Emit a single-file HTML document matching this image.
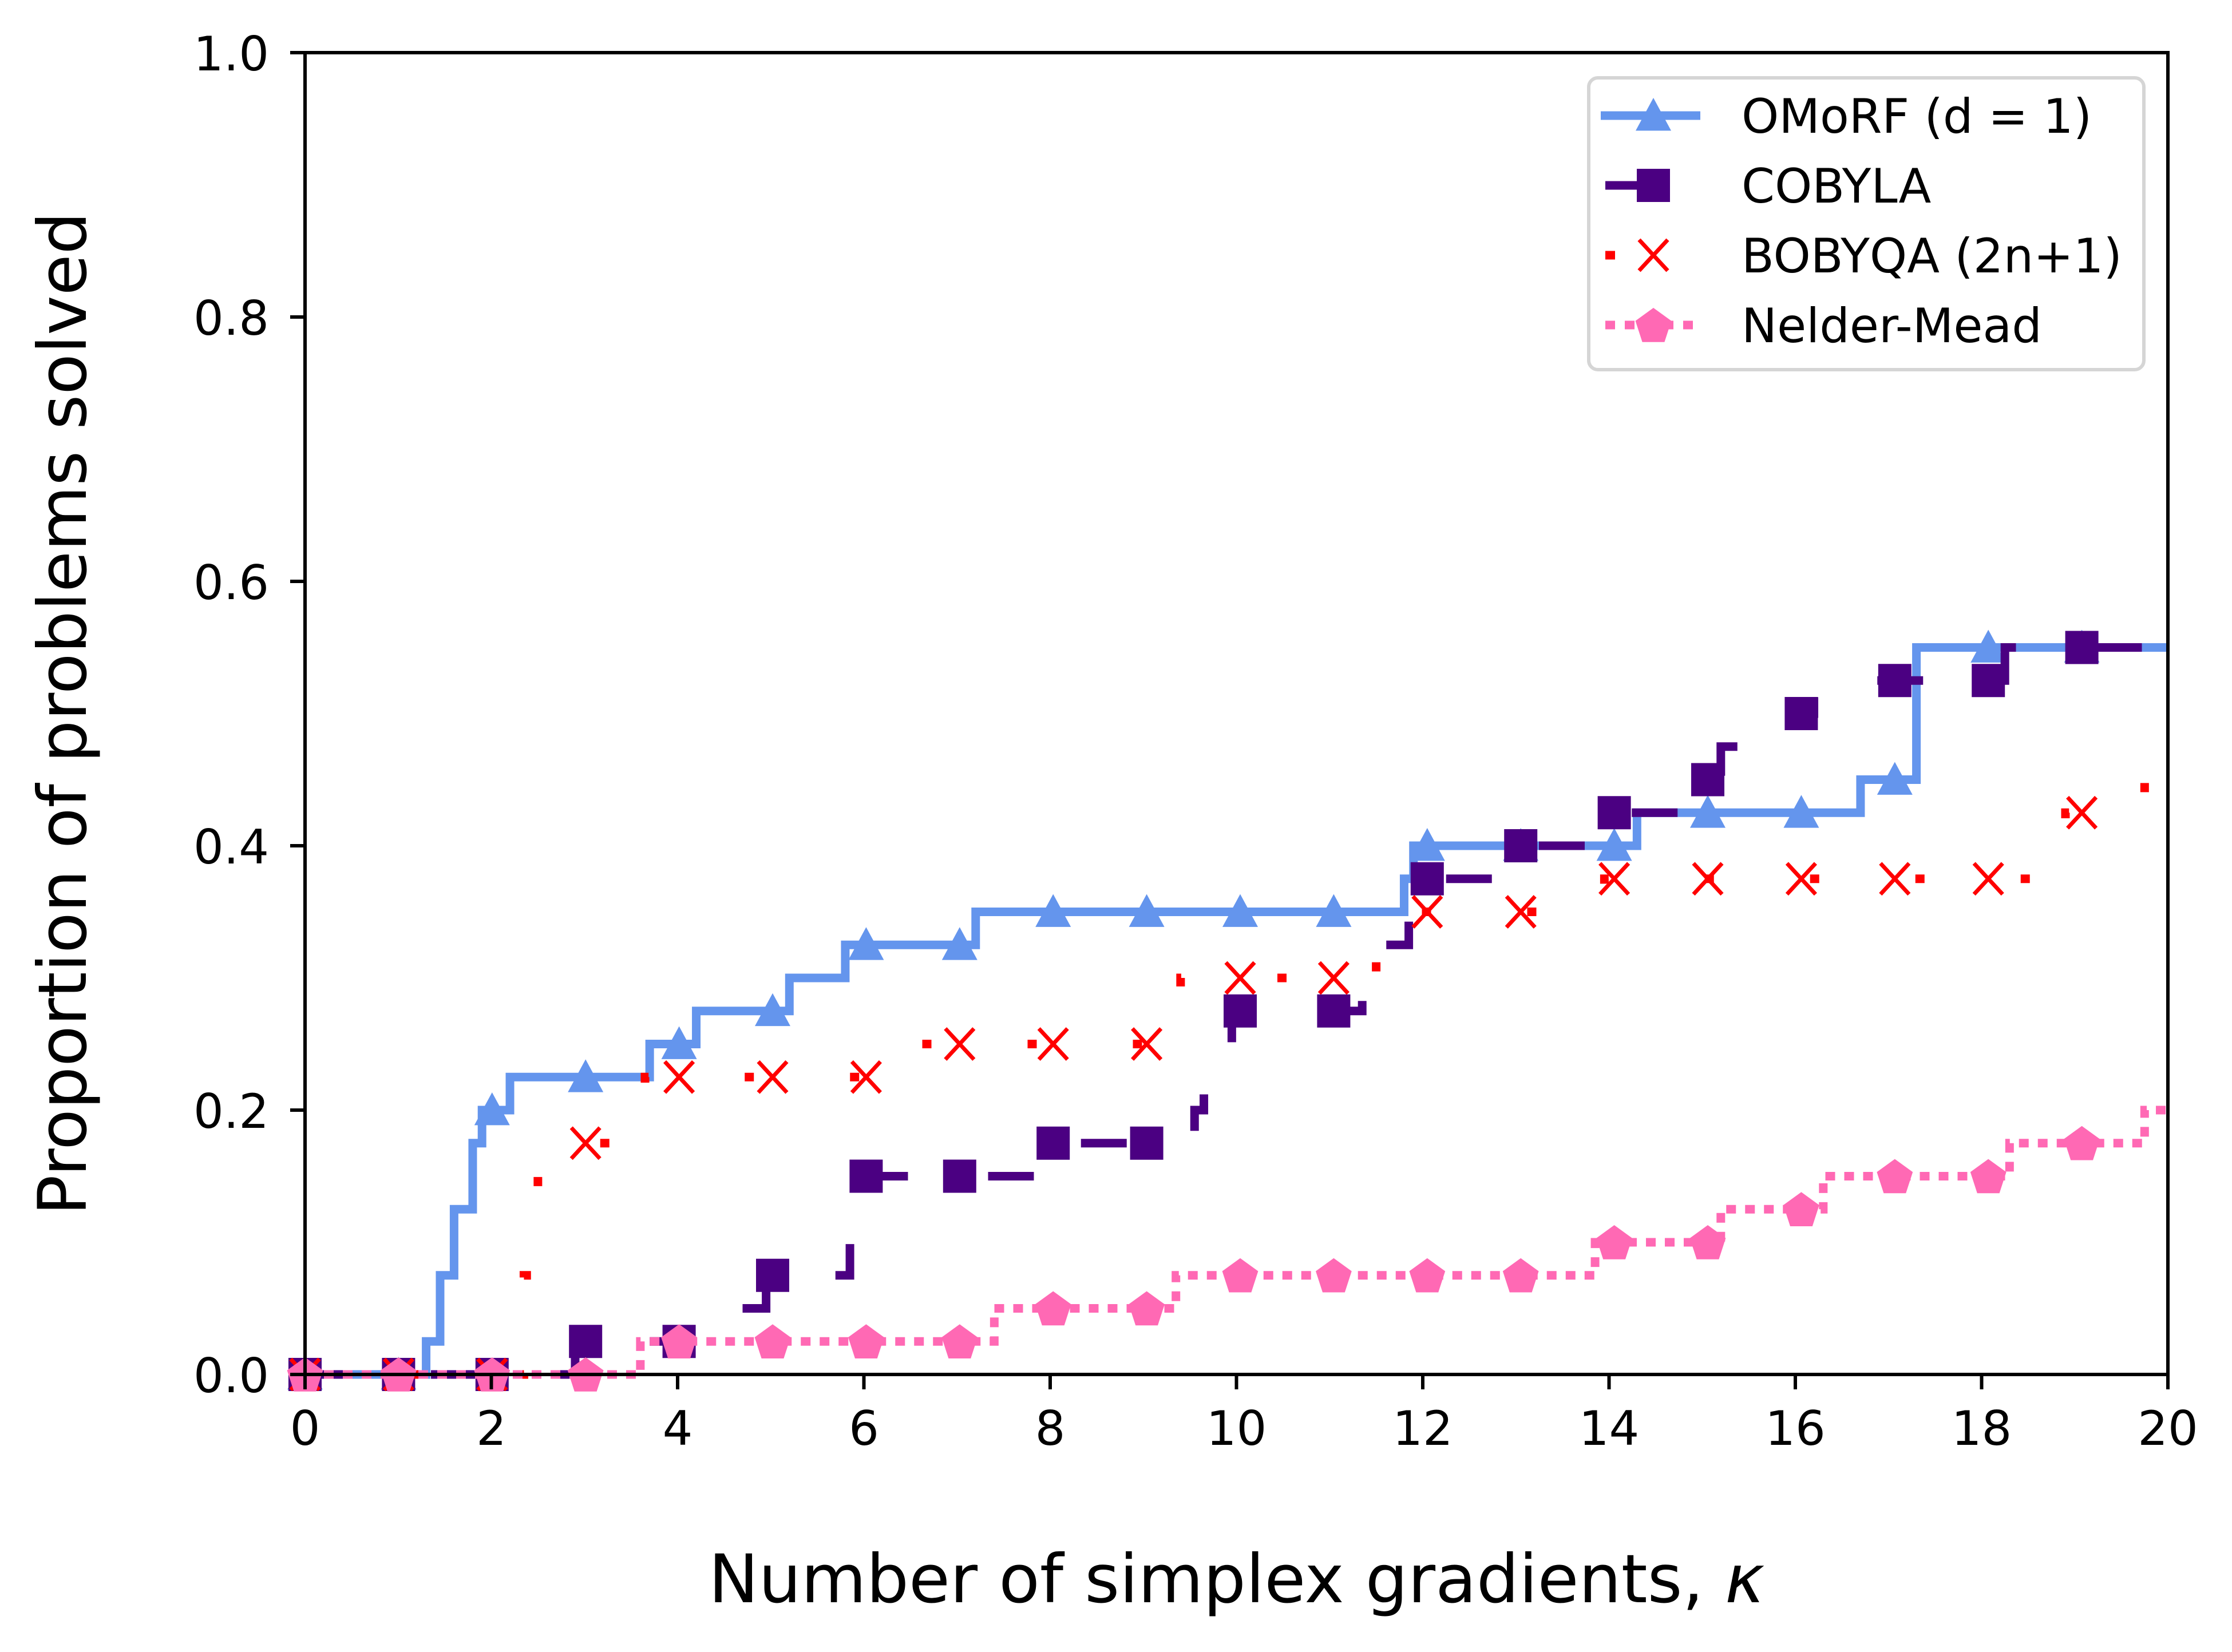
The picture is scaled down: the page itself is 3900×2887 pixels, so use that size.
<!DOCTYPE html>
<html><head><meta charset="utf-8"><style>
html,body{margin:0;padding:0;background:#fff;}
svg{display:block;font-family:"DejaVu Sans","Liberation Sans",sans-serif;}
</style></head><body>
<svg id="chart" width="3900" height="2887" viewBox="0 0 3900 2887" xmlns="http://www.w3.org/2000/svg">
<rect width="3900" height="2887" fill="#fff"/>
<g id="series"></g>
<g id="axes"></g>
<g id="legend"></g>
</svg>
<script>
const xTicks = [0,2,4,6,8,10,12,14,16,18,20];
const yTicks = [0.0,0.2,0.4,0.6,0.8,1.0];
const omorfX = [0,1.3,1.45,1.6,1.8,1.9,2.2,3.7,4.2,5.2,5.8,7.2,11.8,11.9,14.3,16.7,17.3];
const omorfY = [0,0.025,0.075,0.125,0.175,0.2,0.225,0.25,0.275,0.3,0.325,0.35,0.375,0.4,0.425,0.45,0.55];
const cobylaX = [0,2.9,4.55,4.95,5.85,5.95,7.9,9.55,9.65,9.95,11.35,11.5,11.85,12.9,13.9,14.95,15.2,15.95,16.2,18.25,19.85];
const cobylaY = [0,0.025,0.05,0.075,0.125,0.15,0.175,0.2,0.225,0.275,0.3,0.325,0.375,0.4,0.425,0.45,0.475,0.5,0.525,0.55,0.575];
const bobyqaX = [0,2.35,2.5,2.9,3.65,6.6,9.4,11.5,11.9,13.95,18.9,19.75];
const bobyqaY = [0,0.075,0.15,0.175,0.225,0.25,0.3,0.325,0.35,0.375,0.425,0.45];
const nmX = [0,3.6,7.4,9.35,13.85,15.2,16.3,18.3,19.75];
const nmY = [0,0.025,0.05,0.075,0.1,0.125,0.15,0.175,0.2];
const markerK = [0,1,2,3,4,5,6,7,8,9,10,11,12,13,14,15,16,17,18,19];

const NS = "http://www.w3.org/2000/svg";
const L = 533, R = 3788, T = 92, B = 2402;
const XMAX = 20;
function sx(v){ return L + (R-L)*v/XMAX; }
function sy(v){ return B - (B-T)*v; }
function mk(tag, attrs, parent){ const e=document.createElementNS(NS,tag); for(const k in attrs) e.setAttribute(k,attrs[k]); parent.appendChild(e); return e; }
function stepAt(xs, ys, x){ let v=ys[0]; for(let i=0;i<xs.length;i++){ if(xs[i]<=x) v=ys[i]; } return v; }
function stepPath(xs, ys){ let d="M"+sx(xs[0])+","+sy(ys[0]); for(let i=1;i<xs.length;i++){ d+=" H"+sx(xs[i])+" V"+sy(ys[i]); } d+=" H"+sx(XMAX); return d; }

function marker(type, cx, cy, color, parent){
  const s = 31;
  let el;
  if(type==="tri"){
    el = mk("polygon",{points:`${cx},${cy-s} ${cx-s},${cy+s*0.85} ${cx+s},${cy+s*0.85}`,fill:color},parent);
  } else if(type==="sq"){
    el = mk("rect",{x:cx-29,y:cy-29,width:58,height:58,fill:color},parent);
  } else if(type==="x"){
    el = mk("path",{d:`M${cx-25},${cy-27} L${cx+25},${cy+27} M${cx+25},${cy-27} L${cx-25},${cy+27}`,stroke:color,"stroke-width":7,fill:"none"},parent);
  } else {
    let pts=[]; for(let i=0;i<5;i++){ const a=-Math.PI/2+i*2*Math.PI/5; pts.push((cx+33*Math.cos(a))+","+(cy+33*Math.sin(a)+3)); }
    el = mk("polygon",{points:pts.join(" "),fill:color},parent);
  }
  return el;
}

const series = [
  {name:"omorf", xs:omorfX, ys:omorfY, color:"#6495ED", dash:"", ldash:"", m:"tri", label:"OMoRF (d = 1)"},
  {name:"cobyla", xs:cobylaX, ys:cobylaY, color:"#4B0082", dash:"80 140", ldash:"200 0", m:"sq", label:"COBYLA"},
  {name:"bobyqa", xs:bobyqaX, ys:bobyqaY, color:"#FF0000", dash:"16 168", ldash:"17 200", m:"x", label:"BOBYQA (2n+1)"},
  {name:"nelder-mead", xs:nmX, ys:nmY, color:"#FF69B4", dash:"17 16", ldash:"17 17", m:"pent", label:"Nelder-Mead"}
];
const sg = document.getElementById("series");
series.forEach(s=>{
  const g = mk("g",{},sg);
  
  
  const p = mk("path",{d:stepPath(s.xs,s.ys),fill:"none",stroke:s.color,"stroke-width":15,"stroke-dasharray":s.dash},g);
  
  
  markerK.forEach(k=>{
    const xv = k*1.004;
    const m = marker(s.m, sx(xv), sy(stepAt(s.xs,s.ys,xv)), s.color, g);
    
    
  });
});

const ag = document.getElementById("axes");
const frame = mk("rect",{x:L,y:T,width:R-L,height:B-T,fill:"none",stroke:"#000","stroke-width":6},ag);


xTicks.forEach(t=>{
  const tk = mk("line",{x1:sx(t),x2:sx(t),y1:B,y2:B+26,stroke:"#000","stroke-width":6},ag);
  
  
  const tx = mk("text",{x:sx(t),y:2525,"text-anchor":"middle","font-size":83},ag);
  tx.textContent = String(t);
  
  
});
yTicks.forEach(t=>{
  const tk = mk("line",{x1:L-26,x2:L,y1:sy(t),y2:sy(t),stroke:"#000","stroke-width":6},ag);
  
  
  const tx = mk("text",{x:470,y:sy(t)+31,"text-anchor":"end","font-size":83},ag);
  tx.textContent = t.toFixed(1);
  
  
});
const xl = mk("text",{x:(L+R)/2,y:2800,"text-anchor":"middle","font-size":117},ag);
xl.innerHTML = 'Number of simplex gradients, <tspan font-style="italic">\u03BA</tspan>';


const yl = mk("text",{x:0,y:0,"text-anchor":"middle","font-size":117,transform:`translate(150,${(T+B)/2}) rotate(-90)`},ag);
yl.textContent = "Proportion of problems solved";



const lg = document.getElementById("legend");


mk("rect",{x:2776,y:136,width:970,height:510,rx:16,fill:"#fff",stroke:"#d5d5d5","stroke-width":6},lg);
series.forEach((s,i)=>{
  const cy = 202 + i*122;
  const e = mk("g",{},lg);
  
  
  const x1 = s.name==="omorf" ? 2797 : 2805;
  const x2 = s.name==="cobyla" ? 2889 : 2971;
  mk("line",{x1:x1,x2:x2,y1:cy,y2:cy,stroke:s.color,"stroke-width":15,"stroke-dasharray":s.ldash},e);
  marker(s.m, 2889, cy, s.color, e);
  const t = mk("text",{x:3043,y:cy+30,"font-size":83},e);
  t.textContent = s.label;
});
</script>
</body></html>
